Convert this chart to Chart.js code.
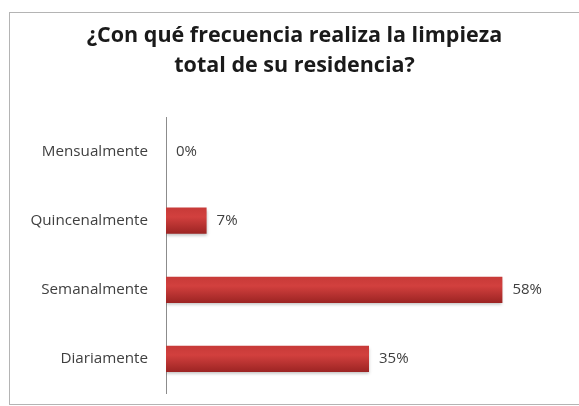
<!DOCTYPE html>
<html>
<head>
<meta charset="utf-8">
<script src="https://cdn.jsdelivr.net/npm/chart.js@4"></script>
<style>
  html, body { margin: 0; padding: 0; background: #fff; }
  #wrap { position: relative; width: 579px; height: 406px; }
  #frame {
    position: absolute; left: 9px; top: 12px; width: 600px; height: 391px;
    border: 1px solid #b4b4b4; border-right: none;
  }
  canvas { position: absolute; left: 0; top: 0; }
</style>
</head>
<body>
<div id="wrap">
  <div id="frame"></div>
  <canvas id="chart" width="579" height="406"></canvas>
</div>
<script>
const categories = ["Mensualmente", "Quincenalmente", "Semanalmente", "Diariamente"];
const percentages = [0, 7, 58, 35];

// label each bar with its value
const valueLabels = {
  id: 'valueLabels',
  afterDatasetsDraw(chart) {
    const ctx = chart.ctx;
    const meta = chart.getDatasetMeta(0);
    ctx.save();
    ctx.font = '15px "Open Sans"';
    ctx.fillStyle = '#404040';
    ctx.textBaseline = 'middle';
    meta.data.forEach((bar, i) => {
      ctx.fillText(percentages[i] + '%', bar.x + 10, bar.y);
    });
    ctx.restore();
  }
};

// soft drop shadow under the bars
const barShadow = {
  id: 'barShadow',
  beforeDatasetsDraw(chart) {
    const ctx = chart.ctx;
    ctx.save();
    ctx.shadowColor = 'rgba(0,0,0,0.25)';
    ctx.shadowOffsetY = 2;
    ctx.shadowBlur = 3;
  },
  afterDatasetsDraw(chart) {
    chart.ctx.restore();
  }
};

function barFill(context) {
  const chart = context.chart;
  const y = chart.scales.y;
  const c = y ? y.getPixelForValue(context.dataIndex) : NaN;
  if (!isFinite(c)) return '#c0302f';
  const g = chart.ctx.createLinearGradient(0, c - 13, 0, c + 13);
  g.addColorStop(0, '#c73a38');
  g.addColorStop(0.35, '#d2403e');
  g.addColorStop(1, '#9c2423');
  return g;
}

new Chart(document.getElementById('chart'), {
  type: 'bar',
  data: {
    labels: categories,
    datasets: [{
      data: percentages,
      backgroundColor: barFill,
      borderWidth: 0,
      barPercentage: 0.38,
      categoryPercentage: 1
    }]
  },
  plugins: [barShadow, valueLabels],
  options: {
    indexAxis: 'y',
    responsive: false,
    animation: false,
    layout: { padding: { left: 17, right: 7, top: 12, bottom: 12.5 } },
    plugins: {
      legend: { display: false },
      tooltip: { enabled: false },
      title: {
        display: true,
        text: ["¿Con qué frecuencia realiza la limpieza", "total de su residencia?"],
        color: '#1a1a1a',
        font: { family: 'Open Sans', size: 21.5, weight: 'bold', lineHeight: '30px' },
        padding: { top: 9, bottom: 36 }
      }
    },
    scales: {
      x: {
        display: false,
        min: 0,
        max: 70
      },
      y: {
        afterFit(scale) {
          // fixed label column; tick padding shouldn't eat vertical space
          scale.width = 149;
          scale.paddingTop = 0;
          scale.paddingBottom = 0;
        },
        grid: { display: false, drawTicks: false },
        border: { display: true, color: '#8c8c8c', width: 1 },
        ticks: {
          color: '#404040',
          padding: 18,
          font: { family: 'Open Sans', size: 15.2 }
        }
      }
    }
  }
});
</script>
</body>
</html>
